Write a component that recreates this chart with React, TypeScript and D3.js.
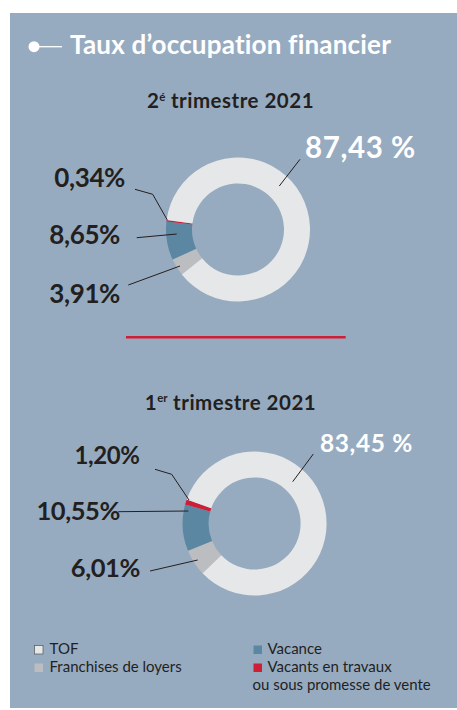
import React from "react";
import * as d3 from "d3";

const categories = ["TOF", "Franchises de loyers", "Vacance", "Vacants en travaux"];
const colors = ["#e6e7e8", "#bcbdc0", "#5b87a2", "#cf1f37"];
const q2Values = [87.43, 3.91, 8.65, 0.34];
const q1Values = [83.45, 6.01, 10.55, 1.2];
const periodLabels = ["2", "1"];
const periodSup = ["é", "er"];
const periodRest = " trimestre 2021";
const title = "Taux d’occupation financier";

// clockwise drawing order: franchises, vacance, vacants, TOF
const drawOrder = [1, 2, 3, 0];

const W = 457;
const H = 710;
const BG = "#97abc0";
const DARK = "#231f20";
const FONT = "Lato, 'Noto Sans', sans-serif";

type Leader = { pts: [number, number][]; lx: number; ly: number; size: number; anchor: string; white?: boolean; space?: boolean };

const charts = [
  {
    values: q2Values,
    cx: 238,
    cy: 229.5,
    start: 231.3,
    titleY: 108.3,
    leaders: {
      0: { pts: [[41.3, -43.5], [62, -70.2]], lx: 305, ly: 157.5, size: 29.5, anchor: "start", white: true, space: true },
      3: { pts: [[-70.7, -9.5], [-85.3, -35.2], [-103, -40.2]], lx: 125, ly: 187, size: 26, anchor: "end" },
      2: { pts: [[-61.3, 4.5], [-101.3, 8.2]], lx: 120, ly: 243.5, size: 26, anchor: "end" },
      1: { pts: [[-58, 36.5], [-109.7, 55.5]], lx: 120, ly: 303, size: 26, anchor: "end" },
    } as Record<number, Leader>,
  },
  {
    values: q1Values,
    cx: 254.6,
    cy: 523.5,
    start: 226.3,
    titleY: 409.5,
    leaders: {
      0: { pts: [[38.1, -41.8], [58.7, -69.5]], lx: 320, ly: 452, size: 24.5, anchor: "start", white: true, space: true },
      3: { pts: [[-65.6, -23.5], [-82.9, -49.2], [-99.6, -54.2]], lx: 139.5, ly: 464, size: 24, anchor: "end" },
      2: { pts: [[-66.3, -12.5], [-136.3, -11.8]], lx: 120, ly: 520, size: 25.5, anchor: "end" },
      1: { pts: [[-56.9, 36.5], [-104.6, 47.5]], lx: 140, ly: 576.7, size: 25.5, anchor: "end" },
    } as Record<number, Leader>,
  },
];

const fmt = (v: number, space?: boolean) => v.toFixed(2).replace(".", ",") + (space ? " %" : "%");

const arc = d3.arc<d3.PieArcDatum<number>>().innerRadius(46).outerRadius(72);

function Donut({ chart, idx }: { chart: (typeof charts)[0]; idx: number }) {
  const s = (chart.start * Math.PI) / 180;
  const pie = d3
    .pie<number>()
    .sort(null)
    .value((i) => chart.values[i])
    .startAngle(s)
    .endAngle(s + 2 * Math.PI);
  const arcs = pie(drawOrder);
  const line = d3.line();
  return (
    <g>
      <text
        x={230.5}
        y={chart.titleY}
        textAnchor="middle"
        fontFamily={FONT}
        fontWeight={700}
        fontSize={20.5}
        fill={DARK}
        letterSpacing={0.5}
      >
        {periodLabels[idx]}
        <tspan fontSize={11.5} dy={-7.5} letterSpacing={0}>{periodSup[idx]}</tspan>
        <tspan dy={7.5}>{periodRest}</tspan>
      </text>
      <g transform={`translate(${chart.cx},${chart.cy})`}>
        {arcs.map((a) => (
          <path key={a.data} d={arc(a) || ""} fill={colors[a.data]} />
        ))}
        {drawOrder.map((i) => {
          const L = chart.leaders[i];
          return <path key={"l" + i} d={line(L.pts) || ""} fill="none" stroke={DARK} strokeWidth={1} />;
        })}
      </g>
      {drawOrder.map((i) => {
        const L = chart.leaders[i];
        return (
          <text
            key={"t" + i}
            x={L.lx}
            y={L.ly}
            textAnchor={L.anchor}
            fontFamily={FONT}
            fontWeight={700}
            fontSize={L.size}
            letterSpacing={L.white ? 0.6 : -0.4}
            fill={L.white ? "#ffffff" : DARK}
          >
            {fmt(chart.values[i], L.space)}
          </text>
        );
      })}
    </g>
  );
}

export default function App() {
  const legend = [
    { i: 0, x: 34.5, y: 645.5, tx: 49.5, ty: 653.5 },
    { i: 1, x: 34.5, y: 663.5, tx: 49.5, ty: 671.5 },
    { i: 2, x: 253.5, y: 645.5, tx: 267.5, ty: 653.5 },
    { i: 3, x: 253.5, y: 663.5, tx: 267.5, ty: 671.5 },
  ];
  return (
    <svg width={W} height={H} style={{ position: "absolute", left: 0, top: 0 }}>
      <rect x={0} y={0} width={W} height={H} fill="#ffffff" />
      <rect x={10} y={13} width={W - 10} height={695} fill={BG} />
      <circle cx={34} cy={46.7} r={5.5} fill="#ffffff" />
      <line x1={34} x2={62} y1={46.7} y2={46.7} stroke="#ffffff" strokeWidth={1.3} />
      <text x={70} y={53.5} fontFamily={FONT} fontWeight={700} fontSize={26} fill="#ffffff" letterSpacing={0.2}>
        {title}
      </text>
      {charts.map((c, i) => (
        <Donut key={i} chart={c} idx={i} />
      ))}
      <line x1={126} x2={345.7} y1={337.3} y2={337.3} stroke="#cf1f37" strokeWidth={2.5} />
      {legend.map((l) => (
        <g key={l.i}>
          <rect
            x={l.x}
            y={l.y}
            width={8.5}
            height={8.5}
            fill={colors[l.i]}
            stroke={l.i === 0 ? "#555" : "none"}
            strokeWidth={0.7}
          />
          <text x={l.tx} y={l.ty} fontFamily={FONT} fontSize={15} fill={DARK}>
            {categories[l.i]}
          </text>
        </g>
      ))}
      <text x={252.5} y={690} fontFamily={FONT} fontSize={15} fill={DARK}>
        ou sous promesse de vente
      </text>
    </svg>
  );
}
